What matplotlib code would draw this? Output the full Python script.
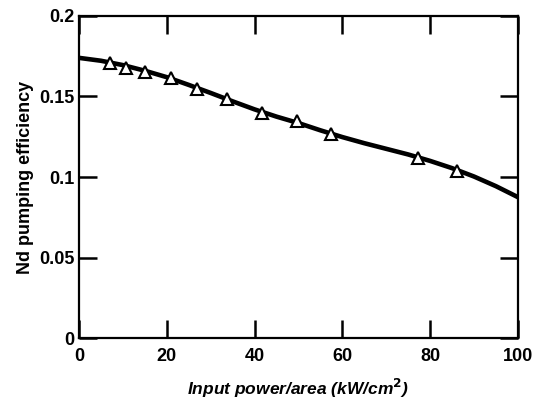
import numpy as np
import matplotlib.pyplot as plt

plt.rcParams['font.family'] = ['Liberation Sans', 'DejaVu Sans']
plt.rcParams['font.weight'] = 'bold'

# measured points (triangles)
power = [7.1, 10.7, 15.0, 21.0, 26.9, 33.7, 41.7, 49.7, 57.4, 77.2, 86.1]
eff = [0.1708, 0.1677, 0.1652, 0.1615, 0.1545, 0.1484, 0.1400, 0.1345, 0.1265, 0.1115, 0.1040]

# fitted curve
curve_x = [0, 5, 10, 15, 20, 25, 30, 35, 40, 45, 50, 55, 60, 65, 70, 75, 80, 85, 90, 95, 100]
curve_y = [0.1740, 0.1722, 0.1695, 0.1660, 0.1620, 0.1572, 0.1522, 0.1470, 0.1420, 0.1375,
           0.1335, 0.1290, 0.1248, 0.1210, 0.1175, 0.1140, 0.1100, 0.1055, 0.1003, 0.0943, 0.0875]

xticks = [0, 20, 40, 60, 80, 100]
yticks = [0, 0.05, 0.1, 0.15, 0.2]
ytick_labels = ['0', '0.05', '0.1', '0.15', '0.2']

fig = plt.figure(figsize=(5.35, 4.07), dpi=100)
ax = fig.add_axes([0.1477, 0.1695, 0.8203, 0.7912])

ax.plot(curve_x, curve_y, color='black', linewidth=3.3, zorder=2)
ax.plot(power, eff, linestyle='none', marker='^', markersize=8,
        markerfacecolor='white', markeredgecolor='black', markeredgewidth=1.5, zorder=3)

ax.set_xlim(0, 100)
ax.set_ylim(0, 0.2)
ax.set_xticks(xticks)
ax.set_yticks(yticks)
ax.set_yticklabels(ytick_labels)

ax.tick_params(direction='in', length=13, width=1.8, top=True, right=True,
               labelsize=13)
ax.tick_params(axis='x', pad=7)
ax.tick_params(axis='y', pad=3)
for lab in ax.get_xticklabels() + ax.get_yticklabels():
    lab.set_fontweight('bold')
for s in ax.spines.values():
    s.set_linewidth(1.6)

ax.set_xlabel('Input power/area (kW/cm$^\\mathbf{2}$)', fontsize=12.5, fontweight='bold',
              fontstyle='italic', labelpad=9)
ax.set_ylabel('Nd pumping efficiency', fontsize=13, fontweight='bold', labelpad=4)

plt.savefig('out.png', dpi=100)
